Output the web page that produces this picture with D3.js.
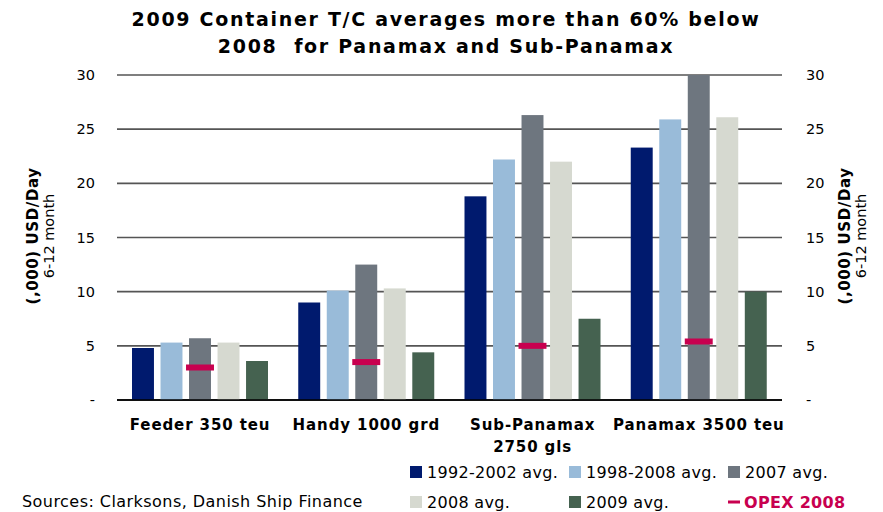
<!DOCTYPE html>
<html>
<head>
<meta charset="utf-8">
<script src="https://cdn.jsdelivr.net/npm/d3@7"></script>
<style>
  body { margin: 0; background: #fff; }
  text { font-family: "DejaVu Sans", Verdana, sans-serif; }
</style>
</head>
<body>
<svg id="chart" width="883" height="512"></svg>
<script>
var categories = ['Feeder 350 teu', 'Handy 1000 grd', 'Sub-Panamax 2750 gls', 'Panamax 3500 teu'];
var seriesNames = ['1992-2002 avg.', '1998-2008 avg.', '2007 avg.', '2008 avg.', '2009 avg.'];
var seriesColors = ['#001a6e', '#99bbd9', '#6e767f', '#d6d9d0', '#456250'];
var avg9202 = [4.8, 9.0, 18.8, 23.3];
var avg9808 = [5.3, 10.1, 22.2, 25.9];
var avg2007 = [5.7, 12.5, 26.3, 30.0];
var avg2008 = [5.3, 10.3, 22.0, 26.1];
var avg2009 = [3.6, 4.4, 7.5, 10.0];
var opex2008 = [3.0, 3.5, 5.0, 5.4];
var yTicks = [0, 5, 10, 15, 20, 25, 30];

var allSeries = [avg9202, avg9808, avg2007, avg2008, avg2009];

var svg = d3.select('#chart');

var x0 = d3.scaleBand()
  .domain(categories)
  .range([117, 782]);
var x1 = d3.scaleBand()
  .domain(seriesNames)
  .range([15, 151])
  .paddingInner(0.23);
var y = d3.scaleLinear()
  .domain([0, 30])
  .range([400, 75]);

// title
var titleLines = ['2009 Container T/C averages more than 60% below', '2008  for Panamax and Sub-Panamax'];
svg.selectAll('text.title')
  .data(titleLines)
  .enter()
  .append('text')
  .attr('class', 'title')
  .attr('x', 446)
  .attr('y', function (d, i) { return 26 + i * 27; })
  .attr('text-anchor', 'middle')
  .attr('font-size', '19px').attr('font-weight', 'bold')
  .attr('letter-spacing', '1.7px')
  .style('white-space', 'pre')
  .text(function (d) { return d; });

// gridlines
svg.selectAll('line.grid')
  .data(yTicks)
  .enter()
  .append('line')
  .attr('class', 'grid')
  .attr('x1', 117).attr('x2', 782)
  .attr('y1', function (d) { return y(d); })
  .attr('y2', function (d) { return y(d); })
  .attr('stroke', function (d) { return d === 0 ? '#000' : '#555'; })
  .attr('stroke-width', 1.6);

// tick labels left and right
var tickFmt = function (d) { return d === 0 ? '-' : d; };
svg.selectAll('text.yl')
  .data(yTicks)
  .enter()
  .append('text')
  .attr('class', 'yl')
  .attr('x', 95)
  .attr('y', function (d) { return y(d) + 5; })
  .attr('text-anchor', 'end')
  .attr('font-size', '14.5px')
  .text(tickFmt);
svg.selectAll('text.yr')
  .data(yTicks)
  .enter()
  .append('text')
  .attr('class', 'yr')
  .attr('x', 806)
  .attr('y', function (d) { return y(d) + 5; })
  .attr('font-size', '14.5px')
  .text(tickFmt);

// axis titles
function axisTitle(cx) {
  var g = svg.append('g').attr('transform', 'translate(' + cx + ',236) rotate(-90)');
  g.append('text')
    .attr('text-anchor', 'middle')
    .attr('font-size', '15px').attr('font-weight', 'bold')
    .attr('letter-spacing', '0.6px')
    .text('(,000) USD/Day');
  g.append('text')
    .attr('y', 16)
    .attr('text-anchor', 'middle')
    .attr('font-size', '14.5px')
    .text('6-12 month');
}
axisTitle(38);
axisTitle(850);

// bars
var groups = svg.selectAll('g.cat')
  .data(categories)
  .enter()
  .append('g')
  .attr('class', 'cat')
  .attr('transform', function (d) { return 'translate(' + x0(d) + ',0)'; });

groups.selectAll('rect')
  .data(function (d, i) {
    return seriesNames.map(function (s, j) {
      return { name: s, value: allSeries[j][i], color: seriesColors[j] };
    });
  })
  .enter()
  .append('rect')
  .attr('x', function (d) { return x1(d.name); })
  .attr('y', function (d) { return y(d.value); })
  .attr('width', x1.bandwidth())
  .attr('height', function (d) { return y(0) - y(d.value); })
  .attr('fill', function (d) { return d.color; });

// redraw baseline on top
svg.append('line')
  .attr('x1', 117).attr('x2', 782)
  .attr('y1', y(0)).attr('y2', y(0))
  .attr('stroke', '#000').attr('stroke-width', 1.6);

// OPEX markers
groups.append('rect')
  .attr('x', function () { return x1('2007 avg.') - 3; })
  .attr('y', function (d, i) { return y(opex2008[i]) - 3; })
  .attr('width', x1.bandwidth() + 6)
  .attr('height', 6)
  .attr('fill', '#c8004f');

// category labels
groups.each(function (d) {
  var g = d3.select(this);
  var lines = d === 'Sub-Panamax 2750 gls' ? ['Sub-Panamax', '2750 gls'] : [d];
  lines.forEach(function (t, k) {
    g.append('text')
      .attr('x', x0.bandwidth() / 2)
      .attr('y', 430 + k * 22)
      .attr('text-anchor', 'middle')
      .attr('font-size', '15px').attr('font-weight', 'bold')
      .attr('letter-spacing', '0.9px')
      .text(t);
  });
});

// legend
var legendX = [410, 569, 728];
var legendItems = seriesNames.map(function (s, j) {
  return { name: s, color: seriesColors[j], row: Math.floor(j / 3), col: j % 3 };
});
var leg = svg.selectAll('g.leg')
  .data(legendItems)
  .enter()
  .append('g')
  .attr('class', 'leg')
  .attr('transform', function (d) {
    return 'translate(' + legendX[d.col] + ',' + (466 + d.row * 30) + ')';
  });
leg.append('rect')
  .attr('width', 12).attr('height', 12)
  .attr('fill', function (d) { return d.color; });
leg.append('text')
  .attr('x', 17).attr('y', 12)
  .attr('font-size', '16px')
  .attr('letter-spacing', '0.3px')
  .text(function (d) { return d.name; });

var opexLeg = svg.append('g').attr('transform', 'translate(' + legendX[2] + ',496)');
opexLeg.append('rect')
  .attr('y', 4.5).attr('width', 12).attr('height', 3)
  .attr('fill', '#c8004f');
opexLeg.append('text')
  .attr('x', 16).attr('y', 12)
  .attr('font-size', '16px').attr('font-weight', 'bold')
  .attr('letter-spacing', '0.3px')
  .attr('fill', '#c8004f')
  .text('OPEX 2008');

// source
svg.append('text')
  .attr('x', 22).attr('y', 507)
  .attr('font-size', '16px')
  .attr('letter-spacing', '0.45px')
  .text('Sources: Clarksons, Danish Ship Finance');
</script>
</body>
</html>
